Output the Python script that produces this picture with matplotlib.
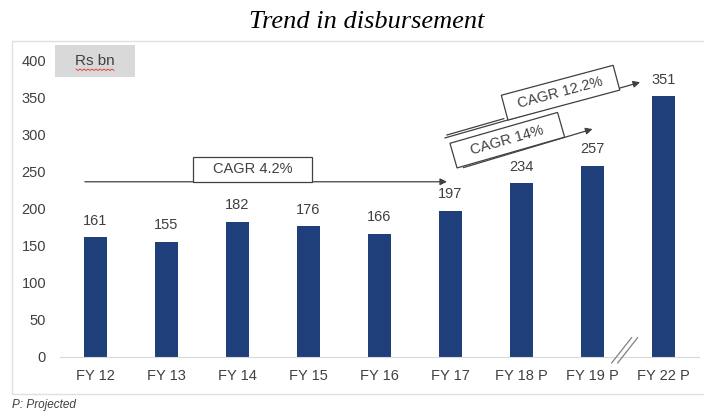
import matplotlib.pyplot as plt
from matplotlib.patches import Rectangle
from matplotlib.lines import Line2D

categories = ["FY 12", "FY 13", "FY 14", "FY 15", "FY 16", "FY 17", "FY 18 P", "FY 19 P", "FY 22 P"]
values = [161, 155, 182, 176, 166, 197, 234, 257, 351]
yticks = [0, 50, 100, 150, 200, 250, 300, 350, 400]

bar_color = "#1F3F7A"
text_color = "#404040"

plt.rcParams["font.family"] = ["Liberation Sans", "DejaVu Sans"]

fig = plt.figure(figsize=(7.04, 4.12), dpi=100)
ax = fig.add_axes([60 / 704, 55 / 412, 639 / 704, 297 / 412])

x = list(range(len(categories)))
ax.bar(x, values, width=0.31, color=bar_color, zorder=2)
for xi, v in zip(x, values):
    ax.annotate(str(v), (xi, v), xytext=(0, 7), textcoords="offset points",
                ha="center", va="bottom", fontsize=10.5, color=text_color)

ax.set_xlim(-0.5, len(categories) - 0.5)
ax.set_ylim(0, 400)
ax.set_yticks(yticks)
ax.set_xticks(x)
ax.set_xticklabels(categories)
ax.tick_params(length=0, labelsize=10.5, labelcolor=text_color)
ax.tick_params(axis="y", pad=10)
ax.tick_params(axis="x", pad=9)
for s in ["top", "right", "left"]:
    ax.spines[s].set_visible(False)
ax.spines["bottom"].set_color("#d9d9d9")

# CAGR 4.2% arrow and box
ax.annotate("", xy=(4.95, 236), xytext=(-0.15, 236),
            arrowprops=dict(arrowstyle="-|>", color="#404040", lw=0.9,
                            mutation_scale=10, shrinkA=0, shrinkB=0), zorder=3)
ax.add_patch(Rectangle((1.37, 236), 1.68, 34, facecolor="white",
                       edgecolor="#404040", lw=0.9, zorder=4))
ax.text(2.21, 253, "CAGR 4.2%", ha="center", va="center", fontsize=10.5,
        color=text_color, zorder=5)

# CAGR 14% arrow and box
ax.annotate("", xy=(7.0, 307), xytext=(5.18, 255),
            arrowprops=dict(arrowstyle="-|>", color="#404040", lw=0.9,
                            mutation_scale=10, shrinkA=0, shrinkB=0), zorder=3)
ax.text(5.8, 292, "   CAGR 14%   ", ha="center", va="center", rotation=16,
        rotation_mode="anchor", fontsize=10.5, color=text_color, zorder=5,
        bbox=dict(boxstyle="square,pad=0.4", fc="white", ec="#404040", lw=0.9))

# CAGR 12.2% arrow and box
ax.annotate("", xy=(7.67, 370), xytext=(4.92, 295),
            arrowprops=dict(arrowstyle="-|>", color="#404040", lw=0.9,
                            mutation_scale=10, shrinkA=0, shrinkB=0), zorder=3)
ax.plot([4.95, 5.75], [299, 321], color="#404040", lw=0.9, zorder=3)
ax.text(6.55, 356, "  CAGR 12.2%  ", ha="center", va="center", rotation=15,
        rotation_mode="anchor", fontsize=10.5, color=text_color, zorder=5,
        bbox=dict(boxstyle="square,pad=0.4", fc="white", ec="#404040", lw=0.9))

# axis break marks
for dx in (0, 0.085):
    ax.plot([7.27 + dx, 7.55 + dx], [-8, 26], color="#808080", lw=0.9,
            clip_on=False, zorder=3)

# frame, title, unit box, footnote
fig.add_artist(Rectangle((12 / 704, 1 - 394 / 412), 700 / 704, 353 / 412,
                         transform=fig.transFigure, fill=False,
                         edgecolor="#e0e0e0", lw=1.0))
fig.text(367 / 704, 1 - 22 / 412, "Trend in disbursement", ha="center", va="center",
         fontsize=19, style="italic", family=["Liberation Serif", "DejaVu Serif"])
fig.add_artist(Rectangle((55 / 704, 1 - 77 / 412), 80 / 704, 32 / 412,
                         transform=fig.transFigure, facecolor="#d9d9d9",
                         edgecolor="none"))
fig.text(95 / 704, 1 - 61 / 412, "Rs bn", ha="center", va="center",
         fontsize=11, color=text_color)
wx = [76 + i * 2 for i in range(20)]
wy = [1 - (69 + (i % 2) * 1.5) / 412 for i in range(20)]
fig.add_artist(Line2D([v / 704 for v in wx], wy, transform=fig.transFigure,
                      color="#e03030", lw=0.6))
fig.text(12 / 704, 1 - 405 / 412, "P: Projected", ha="left", va="center",
         fontsize=8.5, style="italic", color=text_color)

fig.savefig("out.png", dpi=100)
